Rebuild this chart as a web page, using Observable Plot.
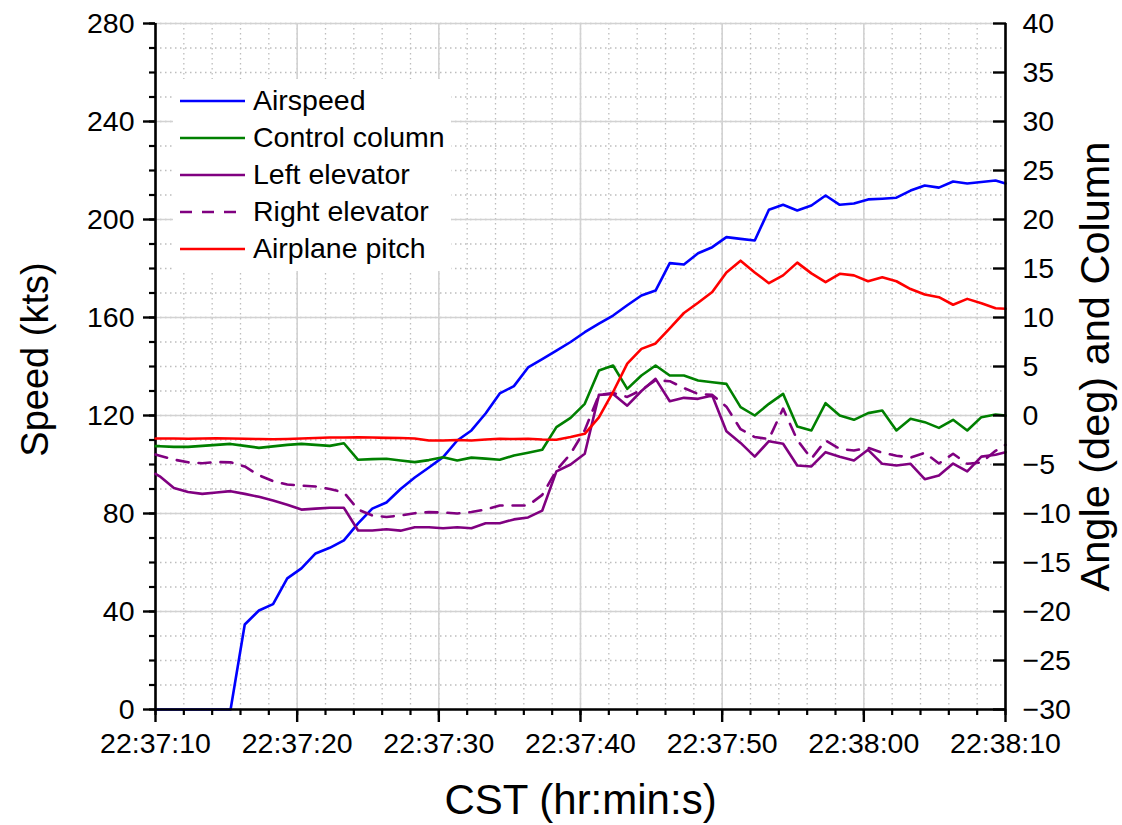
<!DOCTYPE html>
<html>
<head>
<meta charset="utf-8">
<script src="https://cdn.jsdelivr.net/npm/d3@7"></script>
<script src="https://cdn.jsdelivr.net/npm/@observablehq/plot@0.6"></script>
<style>
  body { margin: 0; background: #fff; }
  #chart { position: relative; width: 1122px; height: 825px; font-family: "Liberation Sans", Arial, sans-serif; }
  #chart > svg { position: absolute; left: 0; top: 0; }
  .legend { position: absolute; left: 173px; top: 79px; background: #fff; padding: 3px 6px 4px 7px; font-size: 28.5px; color: #000; }
  .legend .row { display: flex; align-items: center; height: 37px; }
  .legend .row svg { margin-right: 8px; }
</style>
</head>
<body>
<div id="chart"></div>
<script>
// Sample times, seconds after 22:37:10 CST
const sampleSec = [0, 0.3, 1.3, 2.3, 3.3, 4.3, 5.3, 6.3, 7.3, 8.3, 9.3, 10.3, 11.3, 12.3, 13.3, 14.3,
  15.3, 16.3, 17.3, 18.3, 19.3, 20.3, 21.3, 22.3, 23.3, 24.3, 25.3, 26.3, 27.3, 28.3, 29.3,
  30.3, 31.3, 32.3, 33.3, 34.3, 35.3, 36.3, 37.3, 38.3, 39.3, 40.3, 41.3, 42.3, 43.3, 44.3,
  45.3, 46.3, 47.3, 48.3, 49.3, 50.3, 51.3, 52.3, 53.3, 54.3, 55.3, 56.3, 57.3, 58.3, 59.3, 60];

// Airspeed (kts) — left axis
const airspeedKts = [0, 0, 0, 0, 0, 0, 0, 34.7, 40.4, 43, 53.5, 57.6, 63.7, 66, 69, 76,
  82, 84.5, 90, 94.7, 98.8, 103, 109.8, 113.9, 120.8, 129, 132, 139.6, 143, 146.5, 150,
  154, 157.5, 160.8, 165, 169, 171, 182.2, 181.6, 186.2, 188.7, 192.8, 192.1, 191.4, 204, 206,
  203.7, 205.7, 209.8, 206, 206.5, 208.2, 208.5, 208.9, 211.8, 213.9, 213, 215.5, 214.7, 215.3, 215.9, 214.7];

// Angles (deg) and column — right axis
const controlColumn = [-3.13, -3.13, -3.2, -3.2, -3.1, -3.0, -2.9, -3.1, -3.3, -3.15, -3.0, -2.9, -3.0, -3.1, -2.83, -4.52,
  -4.45, -4.42, -4.6, -4.76, -4.55, -4.25, -4.59, -4.3, -4.4, -4.52, -4.08, -3.8, -3.5, -1.19, -0.25,
  1.19, 4.59, 5.1, 2.72, 4.08, 5.1, 4.08, 4.08, 3.57, 3.4, 3.23, 0.85, 0, 1.19, 2.21,
  -1.12, -1.53, 1.26, 0, -0.44, 0.24, 0.51, -1.53, -0.34, -0.68, -1.26, -0.44, -1.53, -0.17, 0.1, 0];

const leftElevator = [-5.95, -6.2, -7.4, -7.8, -8.0, -7.85, -7.72, -8.0, -8.3, -8.67, -9.1, -9.6, -9.5, -9.42, -9.42, -11.73,
  -11.73, -11.6, -11.75, -11.4, -11.4, -11.5, -11.4, -11.5, -11.0, -11.0, -10.6, -10.4, -9.7, -5.7, -5.0,
  -3.9, 2.1, 2.2, 1.0, 2.5, 3.74, 1.45, 1.8, 1.7, 2.04, -1.6, -2.8, -4.2, -2.62, -2.89,
  -5.1, -5.2, -3.74, -4.2, -4.59, -3.5, -4.93, -5.1, -4.93, -6.5, -6.12, -4.9, -5.7, -4.2, -4.0, -3.74];

const rightElevator = [-3.98, -4.1, -4.5, -4.78, -4.87, -4.75, -4.78, -5.2, -6.1, -6.7, -7.04, -7.15, -7.24, -7.5, -7.85, -9.6,
  -10.2, -10.35, -10.2, -9.97, -9.86, -9.9, -10.0, -9.85, -9.6, -9.18, -9.18, -9.18, -8.1, -5.6, -3.9,
  -1.5, 2.1, 2.3, 1.9, 2.6, 3.6, 3.5, 2.8, 2.2, 2.1, 0.9, -1.4, -2.2, -2.4, 0.7,
  -2.5, -4.4, -2.55, -3.4, -3.57, -3.3, -3.8, -4.1, -4.3, -3.8, -4.9, -3.9, -4.93, -4.8, -3.6, -3.0];

const airplanePitch = [-2.35, -2.35, -2.35, -2.38, -2.35, -2.33, -2.35, -2.38, -2.4, -2.42, -2.4, -2.35, -2.3, -2.25, -2.25, -2.22,
  -2.25, -2.28, -2.3, -2.35, -2.55, -2.55, -2.5, -2.55, -2.45, -2.38, -2.4, -2.38, -2.45, -2.48, -2.2,
  -1.87, -0.2, 2.4, 5.3, 6.8, 7.35, 8.9, 10.46, 11.5, 12.6, 14.6, 15.8, 14.6, 13.5, 14.3,
  15.6, 14.5, 13.6, 14.46, 14.3, 13.7, 14.1, 13.7, 12.9, 12.35, 12.07, 11.3, 11.9, 11.46, 10.95, 10.9];

// Axis ticks
const timeTicks = [0, 10, 20, 30, 40, 50, 60];
const timeMinorTicks = [0, 2, 4, 6, 8, 10, 12, 14, 16, 18, 20, 22, 24, 26, 28, 30, 32, 34, 36, 38, 40,
  42, 44, 46, 48, 50, 52, 54, 56, 58, 60];
const speedTicks = [0, 40, 80, 120, 160, 200, 240, 280];
const speedMinorTicks = [0, 10, 20, 30, 40, 50, 60, 70, 80, 90, 100, 110, 120, 130, 140, 150, 160, 170,
  180, 190, 200, 210, 220, 230, 240, 250, 260, 270, 280];
const angleTicks = [-30, -25, -20, -15, -10, -5, 0, 5, 10, 15, 20, 25, 30, 35, 40];

const seriesNames = ["Airspeed", "Control column", "Left elevator", "Right elevator", "Airplane pitch"];
const seriesColors = ["#0000ff", "#008000", "#800080", "#800080", "#ff0000"];
const seriesDash = [null, null, null, "12,10", null];

const startMs = Date.UTC(2000, 0, 1, 22, 37, 10);
const at = (s) => new Date(startMs + s * 1000);
const fmtTime = d3.utcFormat("%H:%M:%S");

const W = 1122, H = 825;
const margins = { marginLeft: 155, marginRight: 117, marginTop: 23, marginBottom: 116 };
const xDomain = [at(0), at(60)];
const font = { fontFamily: "'Liberation Sans', Arial, sans-serif", fontSize: "28.5px", background: "transparent", overflow: "visible" };
const lineWidth = 2.6;

const speedRows = sampleSec.map((s, i) => ({ time: at(s), value: airspeedKts[i] }));
const angleSeries = [
  { key: 1, values: controlColumn },
  { key: 2, values: leftElevator },
  { key: 3, values: rightElevator },
  { key: 4, values: airplanePitch }
];

const dotted = { stroke: "#bdbdbd", strokeWidth: 1.3, strokeDasharray: "1.5,3.5" };
const solid = { stroke: "#d2d2d2", strokeWidth: 1.6 };
const axisInk = { stroke: "#000", strokeWidth: 2.6 };

// Base layer: grid, speed axis, time axis, airspeed
const base = Plot.plot({
  width: W, height: H, ...margins,
  x: { type: "utc", domain: xDomain },
  y: { domain: [0, 280] },
  style: font,
  marks: [
    Plot.ruleX(timeMinorTicks.map(at), dotted),
    Plot.ruleY(speedMinorTicks, dotted),
    Plot.ruleX(timeTicks.map(at), solid),
    Plot.ruleY(speedTicks, solid),
    Plot.line(speedRows, { x: "time", y: "value", stroke: seriesColors[0], strokeWidth: lineWidth }),
    Plot.axisY(speedMinorTicks, { anchor: "left", tickSize: 6, tickFormat: () => "", label: null, strokeWidth: 2.2 }),
    Plot.axisY(speedTicks, { anchor: "left", tickSize: 12, tickPadding: 9, label: null, strokeWidth: 2.4 }),
    Plot.axisX(timeMinorTicks.map(at), { anchor: "bottom", tickSize: 6, tickFormat: () => "", label: null, strokeWidth: 2.2 }),
    Plot.axisX(timeTicks.map(at), { anchor: "bottom", tickSize: 13, tickPadding: 10, tickFormat: fmtTime, label: null, strokeWidth: 2.4 }),
    Plot.ruleX([at(0)], axisInk),
    Plot.ruleY([0], axisInk),
    Plot.text(["Speed (kts)"], { frameAnchor: "left", dx: -120, dy: -7, rotate: -90, textAnchor: "middle", lineAnchor: "middle", fontSize: 38 }),
    Plot.text(["CST (hr:min:s)"], { frameAnchor: "bottom", dy: 91, textAnchor: "middle", lineAnchor: "middle", fontSize: 42 })
  ]
});

// Overlay layer: angle series on the right axis
const angleRows = angleSeries.flatMap((s) => sampleSec.map((t, i) => ({ key: s.key, time: at(t), value: s.values[i] })));
const overlay = Plot.plot({
  width: W, height: H, ...margins,
  x: { type: "utc", domain: xDomain, axis: null },
  y: { domain: [-30, 40] },
  style: font,
  marks: [
    ...angleSeries.map((s) => Plot.line(angleRows.filter((r) => r.key === s.key), {
      x: "time", y: "value",
      stroke: seriesColors[s.key], strokeWidth: lineWidth,
      strokeDasharray: seriesDash[s.key]
    })),
    Plot.axisY(angleTicks, { anchor: "right", tickSize: -13, tickPadding: 30, label: null, strokeWidth: 2.4 }),
    Plot.ruleX([at(60)], axisInk),
    Plot.text(["Angle (deg) and Column"], { frameAnchor: "right", dx: 90, rotate: -90, textAnchor: "middle", lineAnchor: "middle", fontSize: 41.5 })
  ]
});

const chart = document.getElementById("chart");
chart.append(base, overlay);

// Legend
const legend = document.createElement("div");
legend.className = "legend";
seriesNames.forEach((name, i) => {
  const row = document.createElement("div");
  row.className = "row";
  const sw = d3.create("svg").attr("width", 65).attr("height", 10);
  sw.append("line").attr("x1", 0).attr("x2", 65).attr("y1", 5).attr("y2", 5)
    .attr("stroke", seriesColors[i]).attr("stroke-width", lineWidth)
    .attr("stroke-dasharray", seriesDash[i]);
  row.append(sw.node());
  const label = document.createElement("span");
  label.textContent = name;
  row.append(label);
  legend.append(row);
});
chart.append(legend);
</script>
</body>
</html>
